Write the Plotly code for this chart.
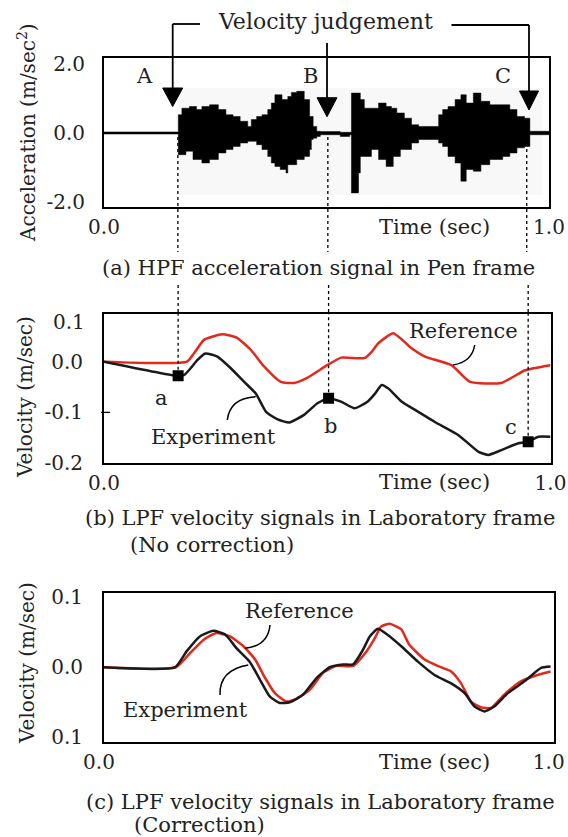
import plotly.graph_objects as go

W, H = 568, 837
FONT = "DejaVu Serif"

# ---------------- Panel (a): HPF acceleration signal (step envelope) ----------------
acc_time = [0.0, 0.167, 0.175, 0.184, 0.192, 0.200, 0.208, 0.220, 0.237, 0.257, 0.274, 0.290,
            0.306, 0.323, 0.331, 0.343, 0.355, 0.368, 0.376, 0.384, 0.396, 0.400, 0.409, 0.413,
            0.421, 0.433, 0.450, 0.462, 0.466, 0.470, 0.478, 0.486, 0.531, 0.552, 0.556, 0.572,
            0.576, 0.585, 0.601, 0.617, 0.634, 0.646, 0.650, 0.658, 0.666, 0.675, 0.691, 0.707,
            0.740, 0.752, 0.761, 0.773, 0.789, 0.802, 0.814, 0.830, 0.847, 0.867, 0.896, 0.912,
            0.928, 0.945, 0.957, 1.0]
acc_upper = [0.03, 0.53, 0.72, 0.72, 0.77, 0.77, 0.68, 0.77, 0.82, 0.68, 0.53, 0.48,
             0.34, 0.19, 0.39, 0.48, 0.53, 0.68, 0.87, 1.11, 1.11, 0.97, 0.97, 1.06,
             1.18, 1.21, 0.97, 0.48, 0.48, 0.19, 0.05, 0.04, 0.02, 0.02, 1.16, 1.16,
             0.97, 0.72, 0.72, 0.87, 0.77, 0.72, 0.72, 0.58, 0.58, 0.43, 0.24, 0.19,
             0.19, 0.53, 0.68, 0.77, 0.97, 1.11, 0.87, 1.16, 0.92, 0.82, 0.82, 0.68,
             0.48, 0.43, 0.05, 0.03]
acc_lower = [-0.03, -0.63, -0.63, -0.53, -0.53, -0.77, -0.77, -0.87, -0.77, -0.58, -0.48, -0.39,
             -0.29, -0.24, -0.24, -0.34, -0.48, -0.68, -0.87, -0.97, -1.06, -1.06, -1.16, -0.92,
             -0.92, -0.77, -0.68, -0.48, -0.19, -0.15, -0.10, -0.05, -0.10, -0.05, -1.74, -1.16,
             -0.68, -0.68, -0.48, -0.77, -0.97, -0.97, -0.68, -0.68, -0.48, -0.48, -0.29, -0.19,
             -0.19, -0.29, -0.39, -0.68, -0.87, -1.40, -1.06, -1.11, -0.92, -0.77, -0.68, -0.58,
             -0.43, -0.39, -0.05, -0.03]
acc_ticks = [-2.0, 0.0, 2.0]
acc_ticktext = ["-2.0", "0.0", "2.0"]

# ---------------- Panel (b): LPF velocity, no correction ----------------
ref_b_time = [0.0, 0.186, 0.202, 0.224, 0.265, 0.298, 0.329, 0.359, 0.396, 0.426, 0.455, 0.500,
              0.531, 0.583, 0.600, 0.614, 0.648, 0.688, 0.719, 0.778, 0.820, 0.890, 0.943, 1.0]
ref_b_vel = [0.0, 0.0, 0.017, 0.043, 0.054, 0.047, 0.023, -0.010, -0.040, -0.042, -0.032, -0.007,
             0.008, 0.007, 0.020, 0.036, 0.056, 0.027, 0.010, -0.007, -0.040, -0.042, -0.017, -0.007]
exp_b_time = [0.0, 0.166, 0.180, 0.194, 0.209, 0.227, 0.254, 0.284, 0.314, 0.340, 0.363, 0.389,
              0.415, 0.448, 0.478, 0.503, 0.531, 0.561, 0.590, 0.607, 0.622, 0.637, 0.667, 0.704,
              0.741, 0.794, 0.839, 0.861, 0.891, 0.928, 0.950, 0.973, 1.0]
exp_b_vel = [0.0, -0.028, -0.026, -0.013, 0.003, 0.016, 0.010, -0.013, -0.040, -0.063, -0.099, -0.114,
             -0.120, -0.105, -0.082, -0.072, -0.079, -0.092, -0.079, -0.063, -0.046, -0.053, -0.079, -0.099,
             -0.119, -0.145, -0.178, -0.184, -0.174, -0.161, -0.158, -0.148, -0.148]
judge_time = [0.166, 0.503, 0.950]
judge_vel = [-0.028, -0.072, -0.158]
judge_labels = ["a", "b", "c"]
vel_b_ticks = [-0.2, -0.1, 0.0]
vel_b_ticktext = ["-0.2", "-0.1", "0.0"]

# ---------------- Panel (c): LPF velocity, with correction ----------------
ref_c_time = [0.0, 0.160, 0.191, 0.221, 0.250, 0.280, 0.310, 0.336, 0.358, 0.380, 0.406, 0.428,
              0.458, 0.487, 0.517, 0.554, 0.584, 0.601, 0.616, 0.635, 0.661, 0.679, 0.713, 0.742,
              0.772, 0.794, 0.816, 0.838, 0.861, 0.890, 0.927, 0.964, 0.993]
ref_c_vel = [0.0, 0.0, 0.020, 0.039, 0.049, 0.044, 0.030, 0.011, -0.015, -0.037, -0.049, -0.045,
             -0.032, -0.008, 0.002, 0.002, 0.023, 0.040, 0.058, 0.062, 0.054, 0.032, 0.011, 0.002,
             -0.006, -0.023, -0.049, -0.057, -0.058, -0.039, -0.020, -0.011, -0.006]
exp_c_time = [0.0, 0.158, 0.184, 0.213, 0.243, 0.269, 0.295, 0.324, 0.347, 0.369, 0.391, 0.413,
              0.443, 0.473, 0.502, 0.532, 0.554, 0.576, 0.591, 0.609, 0.631, 0.661, 0.698, 0.735,
              0.772, 0.802, 0.824, 0.846, 0.868, 0.898, 0.935, 0.972, 0.993]
exp_c_vel = [0.0, 0.0, 0.023, 0.044, 0.052, 0.047, 0.027, 0.008, -0.018, -0.042, -0.051, -0.050,
             -0.039, -0.015, 0.0, 0.004, 0.004, 0.025, 0.044, 0.055, 0.046, 0.030, 0.008, -0.011,
             -0.023, -0.037, -0.056, -0.063, -0.056, -0.037, -0.020, -0.001, 0.001]
vel_c_ticks = [-0.1, 0.0, 0.1]
vel_c_ticktext = ["0.1", "0.0", "0.1"]

time_ticks = [0.0, 1.0]
time_ticktext = ["0.0", "1.0"]

RED = "#e3281c"


def X(px):
    """window pixel x -> paper fraction"""
    return px / W


def Y(py):
    """window pixel y -> paper fraction"""
    return 1 - py / H


fig = go.Figure()

# panel a
fig.add_trace(go.Scatter(x=acc_time, y=acc_lower, mode="lines",
                         line=dict(color="black", width=0.5, shape="hv"),
                         xaxis="x", yaxis="y", showlegend=False, hoverinfo="skip"))
fig.add_trace(go.Scatter(x=acc_time, y=acc_upper, mode="lines",
                         line=dict(color="black", width=0.5, shape="hv"),
                         fill="tonexty", fillcolor="black",
                         xaxis="x", yaxis="y", showlegend=False, hoverinfo="skip"))

# panel b
fig.add_trace(go.Scatter(x=ref_b_time, y=ref_b_vel, mode="lines",
                         line=dict(color=RED, width=2.5, shape="spline", smoothing=0.5),
                         xaxis="x2", yaxis="y2", showlegend=False, name="Reference"))
fig.add_trace(go.Scatter(x=exp_b_time, y=exp_b_vel, mode="lines",
                         line=dict(color="#1a1a1a", width=2.5, shape="spline", smoothing=0.5),
                         xaxis="x2", yaxis="y2", showlegend=False, name="Experiment"))
fig.add_trace(go.Scatter(x=judge_time, y=judge_vel, mode="markers",
                         marker=dict(symbol="square", size=11, color="black"),
                         xaxis="x2", yaxis="y2", showlegend=False))

# panel c
fig.add_trace(go.Scatter(x=ref_c_time, y=ref_c_vel, mode="lines",
                         line=dict(color=RED, width=2.5, shape="spline", smoothing=0.5),
                         xaxis="x3", yaxis="y3", showlegend=False, name="Reference"))
fig.add_trace(go.Scatter(x=exp_c_time, y=exp_c_vel, mode="lines",
                         line=dict(color="#1a1a1a", width=2.5, shape="spline", smoothing=0.5),
                         xaxis="x3", yaxis="y3", showlegend=False, name="Experiment"))

tickfont = dict(family=FONT, size=20, color="#222")
common = dict(showline=True, mirror=True, linecolor="black", linewidth=2,
              showgrid=False, zeroline=False, ticks="outside", automargin=False,
              tickcolor="rgba(0,0,0,0)", tickfont=tickfont, fixedrange=True,
              ticklabeloverflow="allow")

fig.update_layout(
    width=W, height=H, autosize=False,
    margin=dict(l=0, r=0, t=0, b=0, pad=0, autoexpand=False),
    paper_bgcolor="white", plot_bgcolor="white",
    xaxis=dict(domain=[X(104), X(549)], range=[0, 1], tickvals=time_ticks,
               ticktext=time_ticktext, ticklen=1, anchor="y", **common),
    yaxis=dict(domain=[Y(207), Y(58.3)], range=[-2.15, 2.17], tickvals=acc_ticks,
               ticktext=acc_ticktext, ticklen=13, anchor="x", **common),
    xaxis2=dict(domain=[X(104), X(550.5)], range=[0, 1], tickvals=time_ticks,
                ticktext=time_ticktext, ticklen=1, anchor="y2", **common),
    yaxis2=dict(domain=[Y(463.3), Y(314)], range=[-0.2005, 0.094], tickvals=vel_b_ticks,
                ticktext=vel_b_ticktext, ticklen=15, anchor="x2", **common),
    xaxis3=dict(domain=[X(104), X(553.7)], range=[0, 1], tickvals=time_ticks,
                ticktext=time_ticktext, ticklen=1, anchor="y3", ticklabelshift=-5, **common),
    yaxis3=dict(domain=[Y(741.5), Y(593)], range=[-0.106, 0.106], tickvals=vel_c_ticks,
                ticktext=vel_c_ticktext, ticklen=15, anchor="x3", **common),
)

shapes = []
# faint background of the recorded section in panel (a)
shapes.append(dict(type="rect", xref="paper", yref="paper", x0=X(176.6), x1=X(542.6),
                   y0=Y(195), y1=Y(88), fillcolor="#f8f8f8", line=dict(width=0), layer="below"))


def seg(x0, y0, x1, y1, width=1.8):
    return dict(type="line", xref="paper", yref="paper", x0=X(x0), y0=Y(y0), x1=X(x1), y1=Y(y1),
                line=dict(color="black", width=width))


def tri(cx, ybase, ytip, half):
    return dict(type="path", xref="paper", yref="paper",
                path=f"M {X(cx-half)},{Y(ybase)} L {X(cx+half)},{Y(ybase)} L {X(cx)},{Y(ytip)} Z",
                fillcolor="black", line=dict(color="black", width=1))


# "Velocity judgement" arrows
shapes += [seg(172.7, 24, 200, 24), seg(172.7, 24, 172.7, 89), tri(172.7, 88, 106.5, 10)]
shapes += [seg(327, 43, 327, 99), tri(327, 97.7, 116.7, 10)]
shapes += [seg(451.5, 25, 529, 25), seg(529, 25, 529, 92), tri(529, 91, 110, 9.5)]

# dotted judgement lines
for t, v in zip(judge_time, judge_vel):
    shapes.append(dict(type="line", xref="x", yref="paper", x0=t, x1=t, y0=Y(137), y1=Y(252),
                       line=dict(color="black", width=1.3, dash="dot")))
    shapes.append(dict(type="line", xref="x2", yref="paper", x0=t, x1=t, y0=Y(285), y1=Y(314),
                       line=dict(color="black", width=1.3, dash="dot")))
    shapes.append(dict(type="line", xref="x2", yref="y2", x0=t, x1=t, y0=v, y1=0.094,
                       line=dict(color="black", width=1.3, dash="dot")))

# small tick at -0.1 in panel (b)
shapes.append(dict(type="line", xref="paper", yref="y2", x0=X(101), x1=X(110), y0=-0.1, y1=-0.1,
                   line=dict(color="black", width=1.2)))


def curve(p0, c, p1):
    return dict(type="path", xref="paper", yref="paper",
                path=f"M {X(p0[0])},{Y(p0[1])} Q {X(c[0])},{Y(c[1])} {X(p1[0])},{Y(p1[1])}",
                line=dict(color="black", width=1.5))


# leader lines
shapes.append(curve((474.7, 345), (472, 362), (453, 365)))
shapes.append(curve((227.3, 420), (230, 398), (255.7, 396.7)))
shapes.append(curve((270, 625), (268, 646), (245, 648.3)))
shapes.append(curve((220, 695), (219, 670), (248.3, 665)))

fig.update_layout(shapes=shapes)

ann = []


def text(x, y, s, size=21, xanchor="center", angle=0):
    ann.append(dict(x=X(x), y=Y(y), xref="paper", yref="paper", text=s, showarrow=False,
                    xanchor=xanchor, yanchor="middle", textangle=angle,
                    font=dict(family=FONT, size=size, color="#222")))


text(325, 22, "Velocity judgement", size=22)
text(144.6, 76, "A")
text(310, 76, "B")
text(502.5, 76, "C")
for ty in (226.7, 481.7, 761.7):
    text(434.7, ty, "Time (sec)")
text(318, 268, "(a) HPF acceleration signal in Pen frame", size=21)
text(320, 518.3, "(b) LPF velocity signals in Laboratory frame", size=21)
text(128, 545, "(No correction)", xanchor="left", size=21)
text(320, 801.7, "(c) LPF velocity signals in Laboratory frame", size=21)
text(132, 825, "(Correction)", xanchor="left", size=21)
text(27, 133, "Acceleration (m/sec<sup>2</sup>)", size=20, angle=-90)
text(25, 397, "Velocity (m/sec)", size=20, angle=-90)
text(27, 663, "Velocity (m/sec)", size=20, angle=-90)
text(87, 321.7, "0.1", size=20, xanchor="right")
text(463.5, 330.7, "Reference")
text(213, 437, "Experiment")
text(299, 610.7, "Reference")
text(185.5, 710, "Experiment")

label_shift = [(-17, -22), (2, -28), (-17, 15)]
for t, v, s, (dx, dy) in zip(judge_time, judge_vel, judge_labels, label_shift):
    ann.append(dict(x=t, y=v, xref="x2", yref="y2", text=s, showarrow=False,
                    xshift=dx, yshift=dy, font=dict(family=FONT, size=21, color="#222")))

fig.update_layout(annotations=ann)

# remove the default page margin so the 568x837 figure fills the window exactly
fig.write_html(
    "out.html",
    config={"displayModeBar": False},
    post_script="document.body.style.margin='0';document.body.style.overflow='hidden';"
                "document.documentElement.style.overflow='hidden';",
)
